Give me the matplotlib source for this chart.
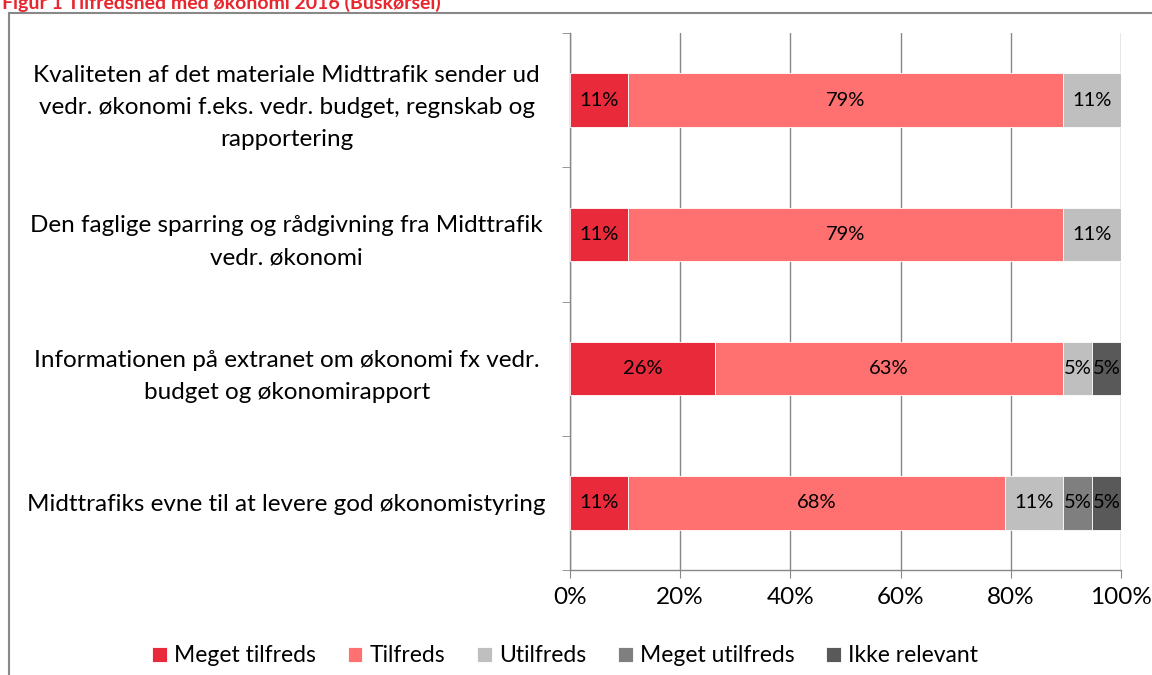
import numpy as np
import matplotlib
matplotlib.use("Agg")
import matplotlib.pyplot as plt
from matplotlib.patches import Rectangle

plt.rcParams['font.family'] = ['Lato', 'DejaVu Sans']

questions = [
    "Kvaliteten af det materiale Midttrafik sender ud\nvedr. økonomi f.eks. vedr. budget, regnskab og\nrapportering",
    "Den faglige sparring og rådgivning fra Midttrafik\nvedr. økonomi",
    "Informationen på extranet om økonomi fx vedr.\nbudget og økonomirapport",
    "Midttrafiks evne til at levere god økonomistyring",
]
series_names = ["Meget tilfreds", "Tilfreds", "Utilfreds", "Meget utilfreds", "Ikke relevant"]
meget_tilfreds = [10.53, 10.53, 26.32, 10.53]
tilfreds = [78.95, 78.95, 63.16, 68.42]
utilfreds = [10.53, 10.53, 5.26, 10.53]
meget_utilfreds = [0, 0, 0, 5.26]
ikke_relevant = [0, 0, 5.26, 5.26]
colors = ["#E92A3A", "#FF7070", "#BFBFBF", "#7F7F7F", "#595959"]

values = [meget_tilfreds, tilfreds, utilfreds, meget_utilfreds, ikke_relevant]

fig = plt.figure(figsize=(11.52, 6.75), dpi=100)
ax = fig.add_axes([570/1152, 1 - 570/675, 551/1152, 537/675])

y = np.arange(len(questions))
left = np.zeros(len(questions))
for name, vals, c in zip(series_names, values, colors):
    vals = np.array(vals)
    bars = ax.barh(y, vals, left=left, height=0.4, color=c, edgecolor="white",
                   linewidth=0.6, label=name, zorder=3)
    for b, v in zip(bars, vals):
        if v > 0:
            ax.text(b.get_x() + b.get_width() / 2, b.get_y() + b.get_height() / 2,
                    f"{v:.0f}%", ha="center", va="center", fontsize=14.5, color="black", zorder=4)
    left += vals

ax.set_xlim(0, 100)
ax.set_ylim(len(questions) - 0.5, -0.5)
ax.set_xticks(np.arange(0, 101, 20))
ax.set_xticklabels([f"{t}%" for t in range(0, 101, 20)], fontsize=17.5)
ax.set_yticks(y)
ax.set_yticklabels(questions, fontsize=17.5, ha="center", linespacing=1.65)
ax.tick_params(axis="y", length=0, pad=204)
ax.set_yticks(np.arange(-0.5, len(questions)), minor=True)
ax.tick_params(axis="y", which="minor", length=6, color="#888888", direction="out")
ax.tick_params(axis="x", length=6, color="#888888", direction="out", pad=6)
ax.grid(axis="x", color="#888888", linewidth=1, zorder=0)
for s in ["top", "right"]:
    ax.spines[s].set_visible(False)
for s in ["left", "bottom"]:
    ax.spines[s].set_color("#888888")
    ax.spines[s].set_linewidth(1)

fig.legend(loc="center", bbox_to_anchor=(565/1152, 1 - 656/675), ncol=5, frameon=False,
           fontsize=16.5, handlelength=0.65, handleheight=0.65, handletextpad=0.3, columnspacing=1.4)

fig.patches.append(Rectangle((9/1152, -0.1), 1.2, 1 - 13/675 + 0.1, transform=fig.transFigure,
                             fill=False, edgecolor="#888888", linewidth=1.5))
fig.text(2/1152, 1 - 9/675, "Figur 1 Tilfredshed med økonomi 2016 (Buskørsel)", color="#E8262D",
         fontsize=14, fontweight="bold", va="baseline", ha="left")

fig.savefig("out.png", dpi=100)
